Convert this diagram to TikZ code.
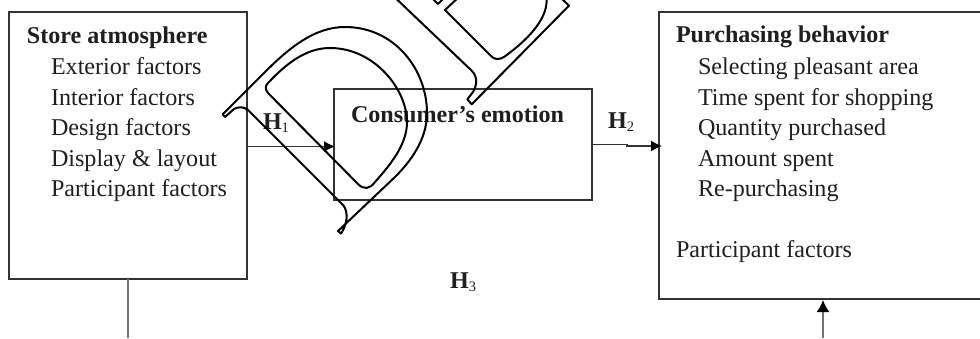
\documentclass[tikz,border=0pt]{standalone}
\usepackage{fontspec}
\setmainfont{Liberation Serif}
\tikzset{
  x=1pt,y=-1pt,
  boxnode/.style={draw=black!80,line width=1.5pt,inner sep=0pt,outer sep=0pt,minimum width=#1},
  txt/.style={anchor=base west,inner sep=0pt,outer sep=0pt,font=\fontsize{24.1}{26}\selectfont,text=black!88},
  head/.style={txt,font=\fontsize{24.1}{26}\selectfont\bfseries},
  hlabel/.style={txt,font=\fontsize{24.1}{26}\selectfont\bfseries},
  link/.style={draw=black!80,line width=1.4pt,-{Latex[length=11pt,width=11pt,black]}},
  plainlink/.style={draw=black!55,line width=1.6pt},
  uplink/.style={draw=black!55,line width=1.6pt,-{Latex[length=12pt,width=13pt,black]}},
  stamp/.style={draw=black,line width=2pt,line join=round},
}
\usetikzlibrary{arrows.meta}
\newcommand{\sbs}[1]{\raisebox{-3pt}{\fontsize{14.5}{16}\selectfont\mdseries #1}}
\begin{document}
\begin{tikzpicture}
\useasboundingbox (0,0) rectangle (980,338);
\clip (0,0) rectangle (980,338);
\fill[white] (0,0) rectangle (980,338);
% boxes
\node[boxnode=238pt,minimum height=267pt,anchor=north west] (store) at (9,12) {};
\node[boxnode=258pt,minimum height=111pt,anchor=north west] (emotion) at (334,89) {};
\node[boxnode=330pt,minimum height=287pt,anchor=north west] (purchase) at (659,12) {};
% connector ends
\coordinate (storeout) at (247,146.5);
\coordinate (emoin) at (335,146.5);
\coordinate (emoout) at (592,144.5);
\coordinate (purin) at (662,146);
\coordinate (storedown) at (128,279);
\coordinate (storeend) at (128,338);
\coordinate (purbelow) at (823,338);
\coordinate (purup) at (823,300);
\draw[link] (storeout) -- (emoin);
\draw[link] (emoout) -- (627,144.5) -- (627,146) -- (purin);
\draw[plainlink] (storedown) -- (storeend);
\draw[uplink] (purbelow) -- (purup);
% left text
\node[head] (s0) at (27,43) {Store atmosphere};
\node[txt] (s1) at (51,74) {Exterior factors};
\node[txt] (s2) at (51,105) {Interior factors};
\node[txt] (s3) at (51,135) {Design factors};
\node[txt] (s4) at (51,166) {Display \& layout};
\node[txt] (s5) at (51,196) {Participant factors};
% middle
\node[head] (e0) at (351,122) {Consumer’s emotion};
\node[hlabel] (h1) at (263,129) {H\sbs{1}};
\node[hlabel] (h2) at (608,128) {H\sbs{2}};
\node[hlabel] (h3) at (450,288) {H\sbs{3}};
% right text
\node[head] (p0) at (676,42) {Purchasing behavior};
\node[txt] (p1) at (698,74) {Selecting pleasant area};
\node[txt] (p2) at (698,105) {Time spent for shopping};
\node[txt] (p3) at (698,135) {Quantity purchased};
\node[txt] (p4) at (698,166) {Amount spent};
\node[txt] (p5) at (698,196) {Re-purchasing};
\node[txt] (p6) at (676,257) {Participant factors};
% stamp letters
\draw[stamp] (222.5,114.5) -- (265,72)
  .. controls (290,47) and (315,27) .. (345,27)
  .. controls (395,27) and (427,70) .. (427,113)
  .. controls (427,140) and (410,162) .. (395,177)
  -- (338,231) -- (341,233.5)
  .. controls (347,225) and (349,212) .. (343,205)
  -- (248,110)
  .. controls (243,106) and (238,107) .. (234,109)
  -- (225,117) -- cycle;
\draw[stamp] (268,93)
  .. controls (265,89) and (265,86) .. (268,83)
  .. controls (285,65) and (305,48) .. (330,48)
  .. controls (375,48) and (407,90) .. (407,122)
  .. controls (407,145) and (390,165) .. (375,182)
  .. controls (370,189) and (364,190) .. (358,184)
  -- cycle;
\draw[stamp] (396.5,-1) -- (471.7,70.7)
  .. controls (478,77) and (477,85) .. (473,92)
  -- (467.3,99.3) -- (471.7,104.3) -- (569,5.7) -- (561,-2);
\draw[stamp] (433,-1) -- (438,4) -- (443,-1);
\draw[stamp] (456.7,-1) -- (445,10) -- (490,55)
  .. controls (494,60) and (499,60) .. (504,57)
  .. controls (525,42) and (548,20) .. (546.5,-1);
\end{tikzpicture}
\end{document}
